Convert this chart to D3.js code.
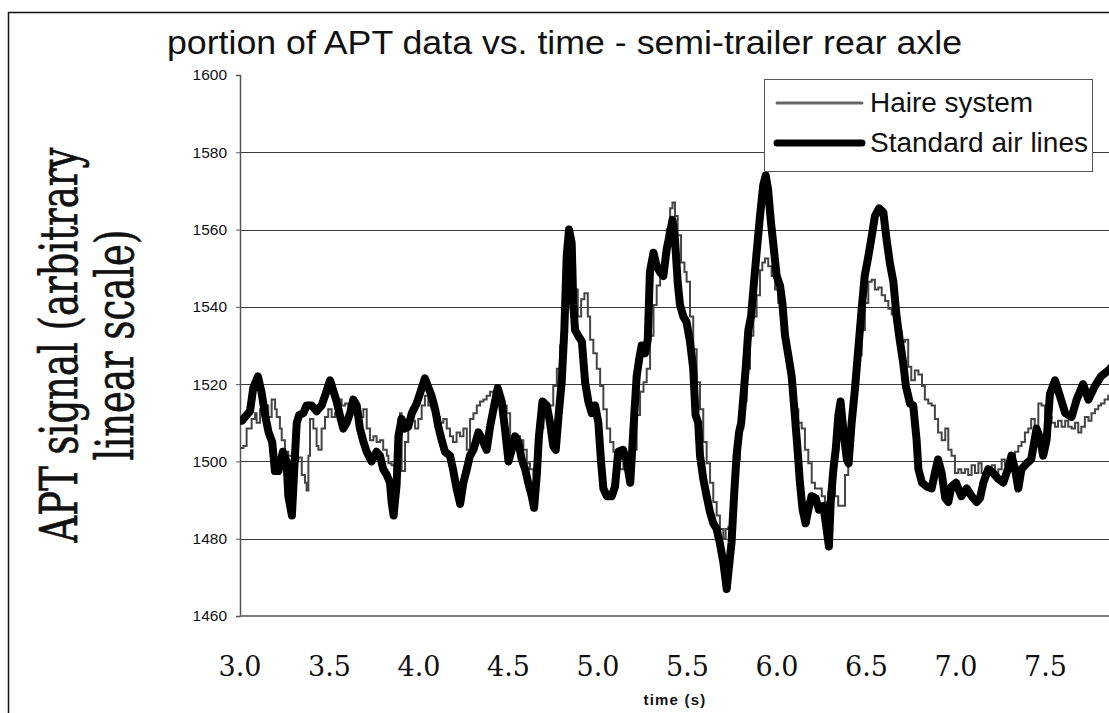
<!DOCTYPE html>
<html>
<head>
<meta charset="utf-8">
<script src="https://cdn.jsdelivr.net/npm/d3@7"></script>
<style>
  body { margin: 0; background: #fff; }
  svg { display: block; }
  .grid line { stroke: #3a3a3a; stroke-width: 1; }
</style>
</head>
<body>
<svg id="chart" width="1109" height="713"></svg>
<script>
"use strict";

// time (s) / APT signal pairs
const haireSystem = [
  [3.000,1503.5],[3.019,1504],[3.037,1508.5],[3.065,1511],[3.084,1512.5],[3.093,1510],[3.112,1513.5],[3.140,1514.5],
  [3.158,1511.5],[3.177,1516],[3.196,1513.5],[3.205,1511.5],[3.223,1508.5],[3.233,1505.5],[3.251,1502.5],[3.270,1501.5],
  [3.307,1500],[3.326,1501],[3.345,1496.5],[3.363,1494.5],[3.372,1492.5],[3.382,1501.5],[3.391,1511],[3.410,1508.5],
  [3.428,1504],[3.438,1503],[3.456,1508.5],[3.475,1511.5],[3.493,1513.5],[3.512,1511.5],[3.531,1512.5],[3.549,1516],
  [3.568,1514.5],[3.587,1515],[3.605,1513],[3.633,1515.5],[3.652,1513.5],[3.670,1511.5],[3.689,1513.5],[3.708,1508.5],
  [3.726,1505.5],[3.745,1506.5],[3.763,1505],[3.782,1505.5],[3.800,1503],[3.820,1501.5],[3.829,1499.5],[3.847,1499],
  [3.866,1503],[3.885,1511],[3.894,1512.5],[3.903,1497.5],[3.922,1505],[3.940,1511.5],[3.959,1510.5],[3.978,1508.5],
  [3.996,1511],[4.015,1514.5],[4.033,1517],[4.052,1514.5],[4.070,1513.5],[4.089,1511.5],[4.117,1510],[4.136,1511],
  [4.155,1508.5],[4.173,1506.5],[4.190,1505],[4.210,1507.5],[4.229,1506.5],[4.248,1508.5],[4.267,1503],[4.285,1511],
  [4.304,1512.5],[4.323,1514.5],[4.341,1515.5],[4.360,1516],[4.378,1517],[4.397,1518],[4.416,1517],[4.434,1518],
  [4.453,1515.5],[4.472,1514.5],[4.490,1512.5],[4.509,1506],[4.527,1504],[4.546,1506.5],[4.565,1505.5],[4.583,1503],
  [4.602,1499.5],[4.620,1498],[4.639,1496.5],[4.649,1499.5],[4.658,1506],[4.676,1508.5],[4.695,1512],[4.714,1512.5],
  [4.732,1514.5],[4.750,1519.5],[4.770,1524],[4.788,1530],[4.807,1537.5],[4.825,1545.5],[4.844,1550.5],[4.857,1550],
  [4.872,1544.5],[4.887,1537.5],[4.906,1542],[4.924,1543.5],[4.943,1537.5],[4.956,1531.5],[4.974,1528],[4.993,1524],
  [5.012,1519.5],[5.030,1513.5],[5.049,1508.5],[5.068,1505],[5.086,1502.5],[5.105,1499.5],[5.123,1498],[5.142,1499.5],
  [5.160,1500.5],[5.179,1499.5],[5.198,1503],[5.216,1512],[5.235,1518],[5.254,1520.5],[5.272,1524],[5.291,1532.5],
  [5.310,1540.5],[5.328,1545.5],[5.347,1549.5],[5.365,1553],[5.384,1560],[5.403,1565.5],[5.416,1567],[5.430,1563.5],
  [5.445,1558.5],[5.464,1551.5],[5.483,1549],[5.495,1546.5],[5.514,1537.5],[5.532,1529],[5.551,1520.5],[5.570,1513.5],
  [5.588,1505],[5.607,1499.5],[5.626,1494.5],[5.644,1489.5],[5.663,1486],[5.681,1482.5],[5.700,1480],[5.713,1482.5],
  [5.728,1483],[5.747,1484],[5.761,1493],[5.774,1500.5],[5.793,1508.5],[5.812,1515.5],[5.830,1524],[5.849,1532.5],
  [5.868,1537.5],[5.886,1543],[5.905,1549.5],[5.918,1551.5],[5.933,1552.5],[5.951,1550.5],[5.970,1548],[5.989,1544.5],
  [6.007,1541],[6.026,1537.5],[6.045,1531.5],[6.063,1525.5],[6.082,1518.5],[6.100,1513.5],[6.119,1510],[6.138,1508.5],
  [6.156,1503],[6.175,1499.5],[6.194,1494.5],[6.212,1493],[6.231,1493],[6.250,1491],[6.268,1489.5],[6.287,1492],
  [6.305,1494.5],[6.324,1491],[6.342,1488.5],[6.361,1488.5],[6.380,1496.5],[6.398,1503],[6.417,1512],[6.436,1520.5],
  [6.454,1527.5],[6.473,1534],[6.491,1541],[6.510,1546.5],[6.529,1547],[6.547,1544.5],[6.566,1545],[6.585,1543],
  [6.604,1541.5],[6.622,1539.5],[6.641,1538],[6.659,1536],[6.678,1533.5],[6.696,1531],[6.715,1531.5],[6.733,1524.5],
  [6.750,1521],[6.770,1523.5],[6.790,1522.5],[6.810,1519.5],[6.826,1516],[6.845,1515],[6.864,1514.5],[6.882,1511],
  [6.900,1507.5],[6.920,1505.5],[6.940,1508.5],[6.957,1503],[6.975,1501.5],[6.994,1497],[7.013,1498],[7.030,1497],
  [7.050,1498],[7.068,1496.5],[7.087,1499],[7.106,1497],[7.125,1499.5],[7.143,1497],[7.162,1498],[7.180,1497],
  [7.200,1499],[7.218,1495.5],[7.236,1498],[7.255,1500.5],[7.273,1499],[7.290,1498],[7.310,1501.5],[7.330,1502.5],
  [7.348,1504],[7.366,1505],[7.385,1507.5],[7.404,1508.5],[7.420,1511],[7.440,1509],[7.460,1515],[7.478,1514.5],
  [7.497,1509],[7.516,1511.5],[7.534,1510],[7.553,1509],[7.570,1510.5],[7.590,1509],[7.610,1510.5],[7.627,1509],
  [7.646,1508.5],[7.665,1510],[7.683,1507.5],[7.700,1509],[7.720,1511.5],[7.740,1510.5],[7.757,1512.5],[7.776,1513.5],
  [7.795,1514.5],[7.810,1515],[7.830,1516],[7.850,1517],[7.870,1517.5]
];

const standardAirLines = [
  [3.000,1510.5],[3.010,1510.5],[3.056,1513],[3.074,1519],[3.100,1522],[3.120,1518],[3.140,1512],[3.160,1507.5],
  [3.180,1505],[3.195,1497.5],[3.215,1497.5],[3.240,1502.5],[3.260,1500],[3.270,1491],[3.290,1486],[3.307,1501.5],
  [3.317,1510],[3.330,1512],[3.354,1512.5],[3.372,1514.5],[3.400,1514.5],[3.428,1513],[3.456,1514.5],[3.475,1517],
  [3.503,1521],[3.520,1518.5],[3.540,1515.5],[3.560,1511.5],[3.577,1508.5],[3.596,1510],[3.615,1512.5],[3.633,1516],
  [3.652,1514.5],[3.670,1508.5],[3.690,1505],[3.708,1502.5],[3.735,1500],[3.763,1502.5],[3.782,1501.5],[3.800,1498],
  [3.820,1496.5],[3.838,1494.5],[3.847,1489.5],[3.858,1486],[3.875,1494],[3.885,1506.5],[3.903,1511],[3.920,1508.5],
  [3.940,1509],[3.960,1512.5],[3.987,1515],[4.005,1517.5],[4.033,1521.5],[4.070,1517],[4.090,1513.5],[4.108,1509],
  [4.127,1505.5],[4.145,1502.5],[4.173,1501.5],[4.190,1498],[4.210,1493],[4.230,1489],[4.248,1494.5],[4.267,1498],
  [4.285,1501.5],[4.304,1503],[4.332,1507.5],[4.350,1506],[4.378,1503],[4.397,1509],[4.416,1513.5],[4.440,1519],
  [4.462,1515.5],[4.480,1508.5],[4.500,1500],[4.518,1503],[4.537,1506.5],[4.555,1505],[4.574,1500.5],[4.593,1498],
  [4.610,1494.5],[4.630,1491],[4.643,1488],[4.658,1496.5],[4.670,1506.5],[4.690,1515.5],[4.714,1514.5],[4.732,1510],
  [4.750,1504],[4.764,1503],[4.780,1512],[4.797,1520.5],[4.812,1534],[4.825,1553],[4.838,1560],[4.853,1556.5],
  [4.862,1540.5],[4.872,1534],[4.890,1532.5],[4.910,1531],[4.928,1520.5],[4.946,1515.5],[4.965,1512.5],[4.984,1514.5],
  [5.002,1510],[5.017,1500],[5.030,1493],[5.050,1491],[5.077,1491],[5.095,1493.5],[5.113,1502.5],[5.140,1503],
  [5.160,1500],[5.180,1494.5],[5.198,1508.5],[5.216,1522],[5.230,1526.5],[5.244,1530],[5.263,1528],[5.278,1531.5],
  [5.290,1549],[5.310,1554],[5.328,1550.5],[5.346,1549],[5.365,1548],[5.384,1555],[5.400,1558.5],[5.416,1562.5],
  [5.430,1557.5],[5.445,1546.5],[5.458,1540.5],[5.477,1537.5],[5.495,1536],[5.514,1531],[5.532,1524],[5.545,1512],
  [5.560,1510],[5.570,1501.5],[5.588,1495.5],[5.607,1491],[5.625,1487],[5.644,1484],[5.663,1482.5],[5.680,1479],
  [5.700,1474],[5.719,1467],[5.730,1472],[5.746,1479],[5.760,1491],[5.774,1501.5],[5.788,1507.5],[5.800,1510],
  [5.810,1515.5],[5.825,1524],[5.840,1534],[5.855,1537.5],[5.868,1544.5],[5.886,1554],[5.905,1563.5],[5.923,1571.5],
  [5.937,1574],[5.950,1570.5],[5.966,1562],[5.980,1556],[5.998,1548],[6.017,1545.5],[6.030,1541],[6.045,1532.5],
  [6.063,1527.5],[6.082,1522],[6.097,1513.5],[6.115,1503],[6.128,1494.5],[6.143,1487.5],[6.160,1484],[6.175,1487.5],
  [6.193,1491],[6.216,1490.5],[6.234,1487.5],[6.259,1488.5],[6.277,1482.5],[6.290,1478],[6.300,1489.5],[6.315,1498],
  [6.328,1503],[6.343,1512],[6.355,1515.5],[6.370,1508.5],[6.390,1500.5],[6.400,1499.5],[6.417,1510],[6.435,1518.5],
  [6.454,1529],[6.473,1539.5],[6.490,1548],[6.510,1553],[6.530,1558.5],[6.547,1563.5],[6.570,1565.5],[6.594,1564.5],
  [6.612,1557.5],[6.630,1551.5],[6.650,1546.5],[6.668,1537.5],[6.687,1531],[6.705,1525.5],[6.720,1519.5],[6.743,1515],
  [6.761,1514.5],[6.780,1505.5],[6.790,1498],[6.810,1494.5],[6.836,1493.5],[6.864,1493],[6.882,1497],[6.900,1500.5],
  [6.920,1497],[6.940,1490.5],[6.957,1489.5],[6.975,1493.5],[7.000,1494.5],[7.030,1491],[7.060,1493],[7.087,1491],
  [7.115,1489.5],[7.134,1490.5],[7.153,1494.5],[7.180,1498],[7.208,1497],[7.236,1495.5],[7.264,1494.5],[7.290,1498],
  [7.310,1501.5],[7.330,1498],[7.348,1493],[7.366,1498],[7.395,1499.5],[7.420,1500.5],[7.450,1508.5],[7.470,1506],
  [7.487,1501.5],[7.506,1505.5],[7.525,1517.5],[7.553,1521],[7.580,1517],[7.610,1512.5],[7.646,1511.5],[7.674,1516],
  [7.710,1520],[7.740,1516],[7.776,1519.5],[7.810,1522],[7.850,1523.5],[7.870,1524.5]
];

const yTicks = [1460, 1480, 1500, 1520, 1540, 1560, 1580, 1600];
const xTicks = [3.0, 3.5, 4.0, 4.5, 5.0, 5.5, 6.0, 6.5, 7.0, 7.5];
const seriesNames = ["Haire system", "Standard air lines"];

const svg = d3.select("#chart");

// plot area runs off the right edge of the picture
const plot = { left: 240, top: 75, bottom: 616, right: 1135 };

const x = d3.scaleLinear().domain([3, 8]).range([plot.left, plot.right]);
const y = d3.scaleLinear().domain([1460, 1600]).range([plot.bottom, plot.top]);

// outer chart frame (cropped at right and bottom)
svg.append("rect")
  .attr("x", 8.5).attr("y", 12.5)
  .attr("width", 1200).attr("height", 800)
  .attr("fill", "none").attr("stroke", "#111").attr("stroke-width", 1.5);

// horizontal gridlines
svg.append("g").attr("class", "grid")
  .selectAll("line")
  .data(yTicks.filter(d => d > 1460 && d < 1600))
  .enter().append("line")
  .attr("x1", plot.left).attr("x2", 1109)
  .attr("y1", d => Math.round(y(d)) + 0.5)
  .attr("y2", d => Math.round(y(d)) + 0.5);

// y axis with small outward ticks
const yAxis = svg.append("g")
  .attr("transform", "translate(" + plot.left + ",0)")
  .call(d3.axisLeft(y).tickValues(yTicks).tickSize(4).tickPadding(9).tickFormat(d3.format("d")));
yAxis.select(".domain").attr("stroke", "#555").attr("stroke-width", 1.5);
yAxis.selectAll(".tick line").attr("stroke", "#555");
yAxis.selectAll(".tick text")
  .attr("font-family", "'Liberation Sans', Arial, sans-serif")
  .attr("font-size", 15.5)
  .attr("fill", "#111");

// x axis line
svg.append("line")
  .attr("x1", plot.left).attr("x2", 1109)
  .attr("y1", plot.bottom).attr("y2", plot.bottom)
  .attr("stroke", "#7a7a7a").attr("stroke-width", 2);

// x tick labels (serif, no tick marks)
svg.append("g")
  .selectAll("text")
  .data(xTicks)
  .enter().append("text")
  .attr("x", d => x(d))
  .attr("y", 676)
  .attr("text-anchor", "middle")
  .attr("font-family", "'DejaVu Serif', serif")
  .attr("font-size", 27)
  .attr("fill", "#111")
  .text(d => d.toFixed(1));

svg.append("text")
  .attr("x", 675).attr("y", 705)
  .attr("text-anchor", "middle")
  .attr("font-family", "'Liberation Sans', Arial, sans-serif")
  .attr("font-weight", "bold")
  .attr("font-size", 15)
  .attr("letter-spacing", 1.2)
  .attr("fill", "#111")
  .text("time (s)");

// y axis title, two rotated lines
const yTitle = svg.append("g")
  .attr("transform", "translate(77,345) scale(1.4,1) rotate(-90)")
  .attr("font-family", "'DejaVu Serif', serif")
  .attr("font-size", 37)
  .attr("fill", "#111")
  .attr("stroke", "#111")
  .attr("stroke-width", 0.5)
  .attr("text-anchor", "middle");
yTitle.append("text").attr("x", 0).attr("y", 0).text("APT signal (arbitrary");
yTitle.append("text").attr("x", 0).attr("y", 40).text("linear scale)");

// title
svg.append("text")
  .attr("x", 167).attr("y", 54)
  .attr("font-family", "'Liberation Sans', Arial, sans-serif")
  .attr("font-size", 33)
  .attr("textLength", 795)
  .attr("lengthAdjust", "spacingAndGlyphs")
  .attr("fill", "#111")
  .text("portion of APT data vs. time - semi-trailer rear axle");

// series
svg.append("clipPath").attr("id", "plotClip")
  .append("rect")
  .attr("x", plot.left).attr("y", plot.top - 10)
  .attr("width", 1109 - plot.left).attr("height", plot.bottom - plot.top + 10);

const lines = svg.append("g").attr("clip-path", "url(#plotClip)");

const haireLine = d3.line()
  .x(d => x(d[0]))
  .y(d => y(d[1]))
  .curve(d3.curveStepAfter);

const standardLine = d3.line()
  .x(d => x(d[0]))
  .y(d => y(d[1]));

lines.append("path")
  .datum(haireSystem)
  .attr("d", haireLine)
  .attr("fill", "none")
  .attr("stroke", "#454545")
  .attr("stroke-width", 2);

lines.append("path")
  .datum(standardAirLines)
  .attr("d", standardLine)
  .attr("fill", "none")
  .attr("stroke", "#000")
  .attr("stroke-width", 8)
  .attr("stroke-linejoin", "round")
  .attr("stroke-linecap", "round");

// legend
const legend = svg.append("g");
legend.append("rect")
  .attr("x", 764.5).attr("y", 79.5)
  .attr("width", 328).attr("height", 92)
  .attr("fill", "#fff").attr("stroke", "#555").attr("stroke-width", 1);

const legendRows = [
  { name: seriesNames[0], y: 103, stroke: "#666", width: 3, textW: 163 },
  { name: seriesNames[1], y: 143, stroke: "#000", width: 7, textW: 218 }
];
legendRows.forEach(function(r) {
  legend.append("line")
    .attr("x1", 777).attr("x2", 862)
    .attr("y1", r.y).attr("y2", r.y)
    .attr("stroke", r.stroke).attr("stroke-width", r.width)
    .attr("stroke-linecap", "round");
  legend.append("text")
    .attr("x", 870).attr("y", r.y + 9)
    .attr("font-family", "'Liberation Sans', Arial, sans-serif")
    .attr("font-size", 27)
    .attr("textLength", r.textW)
    .attr("lengthAdjust", "spacingAndGlyphs")
    .attr("fill", "#111")
    .text(r.name);
});
</script>
</body>
</html>
